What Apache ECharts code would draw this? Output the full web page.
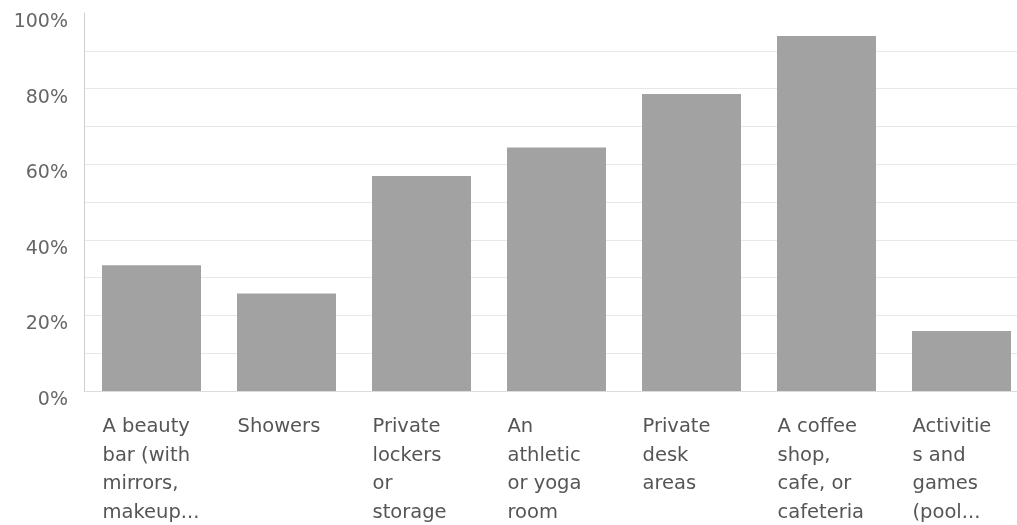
<!DOCTYPE html>
<html>
<head>
<meta charset="utf-8">
<script src="https://cdn.jsdelivr.net/npm/echarts@6/dist/echarts.min.js"></script>
<style>
  html, body { margin: 0; padding: 0; background: #fff; }
  #chart { width: 1017px; height: 525px; }
</style>
</head>
<body>
<div id="chart"></div>
<script>
// 类别（已按原图换行）
const categories = [
    'A beauty\nbar (with\nmirrors,\nmakeup...',
    'Showers',
    'Private\nlockers\nor\nstorage',
    'An\nathletic\nor yoga\nroom',
    'Private\ndesk\nareas',
    'A coffee\nshop,\ncafe, or\ncafeteria',
    'Activitie\ns and\ngames\n(pool...'
]

// 各项百分比
const values = [33.3, 25.8, 56.9, 64.4, 78.6, 93.9, 15.9]

// y轴显示的刻度
const yTickLabels = [0, 20, 40, 60, 80, 100]

const myChart = echarts.init(document.getElementById('chart'))

const option = {
    animation: false,
    grid: {
        left: 84,
        right: -12,
        top: 13,
        bottom: 134,
        outerBoundsMode: 'none',
        containLabel: false
    },
    xAxis: {
        type: 'category',
        data: categories,
        axisLine: { lineStyle: { color: '#dcdcdc', width: 1 } },
        axisTick: { show: false },
        axisLabel: {
            interval: 0,
            align: 'left',
            padding: [0, 0, 0, -49],
            margin: 22,
            lineHeight: 28.5,
            fontSize: 19.5,
            fontFamily: 'DejaVu Sans',
            color: '#555'
        }
    },
    yAxis: {
        type: 'value',
        min: 0,
        max: 100,
        interval: 10,
        axisLine: { show: true, lineStyle: { color: '#cfcfcf', width: 1 } },
        axisTick: { show: false },
        splitLine: {
            showMaxLine: false,
            lineStyle: { color: '#e8e8e8', width: 1 }
        },
        axisLabel: {
            margin: 16,
            verticalAlign: 'top',
            lineHeight: 18,
            fontSize: 19,
            fontFamily: 'DejaVu Sans',
            color: '#666',
            formatter: (v) => yTickLabels.includes(v) ? v + '%' : ''
        }
    },
    series: [
        {
            type: 'bar',
            data: values,
            barWidth: 99,
            itemStyle: { color: '#a2a2a2' }
        }
    ]
}

myChart.setOption(option)
</script>
</body>
</html>
